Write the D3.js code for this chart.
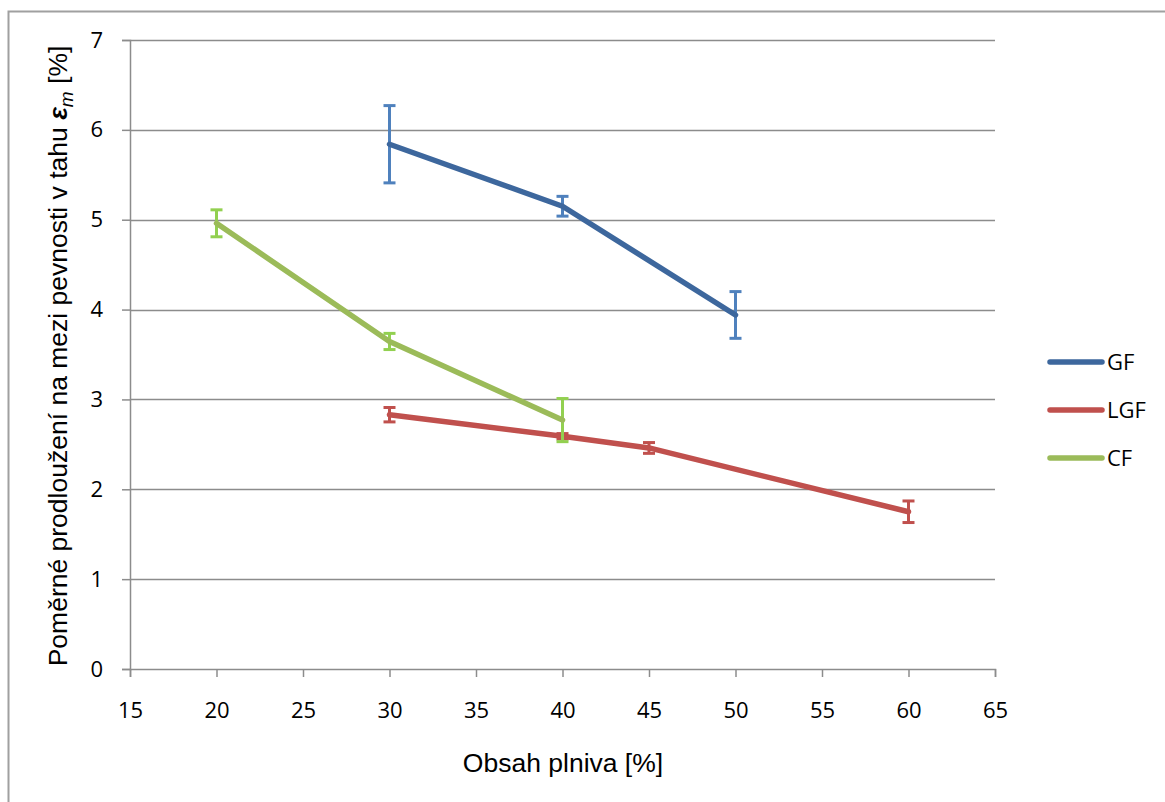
<!DOCTYPE html>
<html>
<head>
<meta charset="utf-8">
<script src="https://d3js.org/d3.v7.min.js"></script>
<style>
  html, body { margin: 0; padding: 0; background: #fff; }
  svg { display: block; }
</style>
</head>
<body>
<svg id="chart" width="1165" height="802"></svg>
<script>
// Filler content [%] and elongation at break [%] with standard deviations
const seriesNames = ["GF", "LGF", "CF"];
const gfX = [30, 40, 50];
const gfY = [5.84, 5.15, 3.94];
const gfErr = [0.43, 0.11, 0.26];
const lgfX = [30, 40, 45, 60];
const lgfY = [2.83, 2.59, 2.46, 1.75];
const lgfErr = [0.08, 0.03, 0.06, 0.12];
const cfX = [20, 30, 40];
const cfY = [4.96, 3.645, 2.77];
const cfErr = [0.15, 0.09, 0.24];
const xTicks = [15, 20, 25, 30, 35, 40, 45, 50, 55, 60, 65];
const yTicks = [0, 1, 2, 3, 4, 5, 6, 7];

const lineColors = ["#3d679d", "#c0504d", "#9bbb59"];
const errColors = ["#4f81bd", "#c0504d", "#92d050"];

const series = [
  { name: seriesNames[0], x: gfX, y: gfY, e: gfErr },
  { name: seriesNames[1], x: lgfX, y: lgfY, e: lgfErr },
  { name: seriesNames[2], x: cfX, y: cfY, e: cfErr }
];

const tickFont = "Open Sans, Lato, sans-serif";
const titleFont = "Liberation Sans, Arial, sans-serif";

const svg = d3.select("#chart");

// outer frame
svg.append("rect")
  .attr("x", 8.5).attr("y", 11.5)
  .attr("width", 1170).attr("height", 800)
  .attr("fill", "none").attr("stroke", "#a0a0a0").attr("stroke-width", 2);

const x = d3.scaleLinear().domain([15, 65]).range([130, 995]);
const y = d3.scaleLinear().domain([0, 7]).range([669, 40]);

// gridlines
svg.append("g").selectAll("line")
  .data(yTicks.filter(d => d > 0))
  .join("line")
  .attr("x1", x(15)).attr("x2", x(65))
  .attr("y1", d => Math.round(y(d)) + 0.5).attr("y2", d => Math.round(y(d)) + 0.5)
  .attr("stroke", "#8c8c8c").attr("stroke-width", 1.5);

// y axis
const yAxis = svg.append("g")
  .attr("transform", `translate(${x(15)},0)`)
  .call(d3.axisLeft(y).tickValues(yTicks).tickFormat(d3.format("d")).tickSize(8).tickPadding(19));
yAxis.select(".domain").attr("stroke", "#8c8c8c").attr("stroke-width", 1.5);
yAxis.selectAll(".tick line").attr("stroke", "#8c8c8c").attr("stroke-width", 1.5);
yAxis.selectAll("text")
  .attr("font-family", tickFont).attr("font-size", 22).attr("fill", "#000");

// x axis
const xAxis = svg.append("g")
  .attr("transform", `translate(0,${y(0)})`)
  .call(d3.axisBottom(x).tickValues(xTicks).tickFormat(d3.format("d")).tickSize(8).tickPadding(25));
xAxis.select(".domain").attr("stroke", "#8c8c8c").attr("stroke-width", 1.5);
xAxis.selectAll(".tick line").attr("stroke", "#8c8c8c").attr("stroke-width", 1.5);
xAxis.selectAll("text")
  .attr("font-family", tickFont).attr("font-size", 22).attr("fill", "#000");

// axis titles
svg.append("text")
  .attr("x", 563).attr("y", 772)
  .attr("text-anchor", "middle")
  .attr("font-family", titleFont).attr("font-size", 26.5)
  .text("Obsah plniva [%]");

const yt = svg.append("text")
  .attr("transform", "translate(67,356) rotate(-90)")
  .attr("text-anchor", "middle")
  .attr("font-family", titleFont).attr("font-size", 26.5);
yt.append("tspan").text("Poměrné prodloužení na mezi pevnosti v tahu ");
yt.append("tspan").attr("font-weight", "bold").attr("font-style", "italic").text("ε");
yt.append("tspan").attr("font-style", "italic").attr("font-size", 19).attr("dy", 6).text("m");
yt.append("tspan").attr("dy", -6).text(" [%]");

const line = d3.line().x(d => x(d[0])).y(d => y(d[1]));

series.forEach((s, i) => {
  const pts = s.x.map((v, k) => [v, s.y[k], s.e[k]]);
  const g = svg.append("g");
  // error bars
  const eb = g.selectAll("g.err").data(pts).join("g").attr("class", "err");
  eb.append("line")
    .attr("x1", d => x(d[0])).attr("x2", d => x(d[0]))
    .attr("y1", d => y(d[1] + d[2])).attr("y2", d => y(d[1] - d[2]))
    .attr("stroke", errColors[i]).attr("stroke-width", 3);
  [1, -1].forEach(sg => {
    eb.append("line")
      .attr("x1", d => x(d[0]) - 6).attr("x2", d => x(d[0]) + 6)
      .attr("y1", d => y(d[1] + sg * d[2])).attr("y2", d => y(d[1] + sg * d[2]))
      .attr("stroke", errColors[i]).attr("stroke-width", 3);
  });
  // series line
  g.append("path")
    .datum(pts)
    .attr("d", line)
    .attr("fill", "none")
    .attr("stroke", lineColors[i]).attr("stroke-width", 5.5)
    .attr("stroke-linecap", "round").attr("stroke-linejoin", "round");
});

// legend
const leg = svg.append("g");
series.forEach((s, i) => {
  const ly = 362 + i * 48;
  leg.append("line")
    .attr("x1", 1050).attr("x2", 1102).attr("y1", ly).attr("y2", ly)
    .attr("stroke", lineColors[i]).attr("stroke-width", 5.5).attr("stroke-linecap", "round");
  leg.append("text")
    .attr("x", 1107).attr("y", ly + 8)
    .attr("font-family", tickFont).attr("font-size", 22)
    .text(s.name);
});
</script>
</body>
</html>
